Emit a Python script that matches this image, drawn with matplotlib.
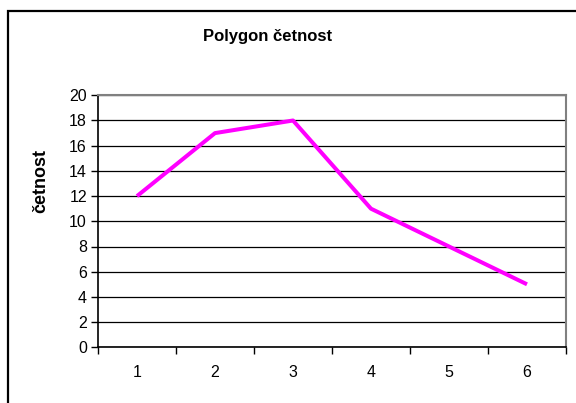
import matplotlib
matplotlib.use('Agg')
import matplotlib.pyplot as plt
import matplotlib.patches as patches
import numpy as np

categories = ['1', '2', '3', '4', '5', '6']
cetnost = [12, 17, 18, 11, 8, 5]
y_ticks = [0, 2, 4, 6, 8, 10, 12, 14, 16, 18, 20]

plt.rcParams['font.family'] = ['Liberation Sans', 'DejaVu Sans']

W, H = 576, 403
fig = plt.figure(figsize=(W / 100, H / 100), dpi=100)
ax = fig.add_axes([98 / W, 55.7 / H, 468 / W, 252 / H])

x = np.arange(len(categories))
ax.plot(x, cetnost, color='#FF00FF', linewidth=2.9, solid_capstyle='butt', zorder=3)

ax.set_xlim(-0.5, len(categories) - 0.5)
ax.set_ylim(0, 20)
ax.set_yticks(y_ticks)
ax.set_yticklabels([str(v) for v in y_ticks], fontsize=11.5)
ax.yaxis.grid(True, color='black', linewidth=0.9)
ax.set_axisbelow(True)

# category axis: ticks between categories, labels in the middle
ax.set_xticks(np.arange(-0.5, len(categories), 1.0))
ax.set_xticklabels([])
ax.set_xticks(x, minor=True)
ax.set_xticklabels(categories, minor=True, fontsize=11.5)
ax.tick_params(axis='x', which='major', length=5, width=1, direction='out')
ax.tick_params(axis='x', which='minor', length=0, pad=13)
ax.tick_params(axis='y', length=5, width=1, direction='out', pad=3)

for side in ['top', 'right']:
    ax.spines[side].set_color('#808080')
    ax.spines[side].set_linewidth(1.5)
for side in ['left', 'bottom']:
    ax.spines[side].set_color('black')
    ax.spines[side].set_linewidth(1.2)

fig.text(268 / W, 1 - 37 / H, 'Polygon četnost', ha='center', va='center',
         fontsize=12, fontweight='bold')
fig.text(41 / W, 1 - 181 / H, 'četnost', ha='center', va='center',
         rotation=90, fontsize=13, fontweight='bold')

# chart area border (cut off at the right and bottom edges)
border = patches.Rectangle((7.5 / W, -0.1), 1.2, (H - 10.5) / H + 0.1,
                           transform=fig.transFigure, fill=False,
                           edgecolor='black', linewidth=1.6)
fig.patches.append(border)

fig.savefig('out.png', dpi=100)
